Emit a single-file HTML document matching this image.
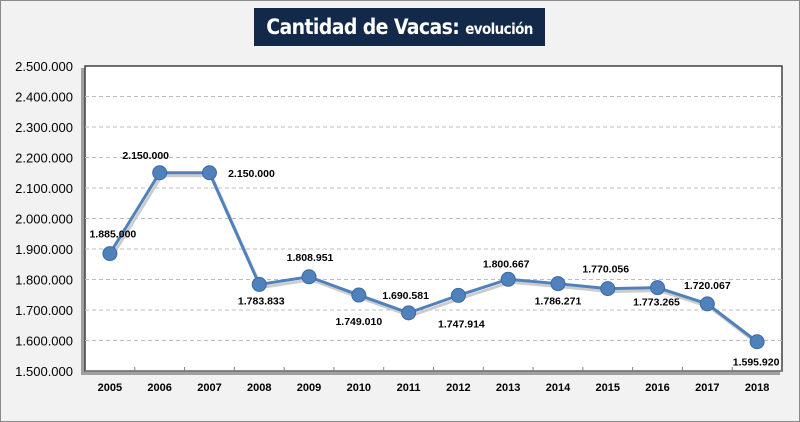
<!DOCTYPE html>
<html><head><meta charset="utf-8"><style>
body{margin:0;width:800px;height:422px;overflow:hidden;background:#fff;font-family:"Liberation Sans",sans-serif}
#frame{position:absolute;left:0;top:0;width:798px;height:420px;border:1px solid #8a8a8a;background:#f2f2f2}
#title{position:absolute;left:254px;top:8px;width:291px;height:38px;background:#13294a;color:#fff;text-align:center;line-height:38px;white-space:nowrap;overflow:hidden;font-family:"DejaVu Sans Condensed","Liberation Sans Narrow","Liberation Sans",sans-serif;font-weight:bold;font-size:21px;letter-spacing:-0.6px}
#title span{font-size:15px}
</style></head><body>
<div id="frame"></div>
<div id="title">Cantidad de Vacas: <span>evolución</span></div>
<svg id="chart" width="800" height="422" style="position:absolute;left:0;top:0"></svg>
<script>
const years=["2005","2006","2007","2008","2009","2010","2011","2012","2013","2014","2015","2016","2017","2018"];
const values=[1885000,2150000,2150000,1783833,1808951,1749010,1690581,1747914,1800667,1786271,1770056,1773265,1720067,1595920];
const yTicks=[1500000,1600000,1700000,1800000,1900000,2000000,2100000,2200000,2300000,2400000,2500000];
const labelDx=[3,-14,42,2,1,0,-3,3,-2,0,-2,-1,0,-1];
const labelDy=[-20,-18,0,16,-20,26,-18,28,-16,17,-20,14,-19,20];
const NS="http://www.w3.org/2000/svg";
const svg=document.getElementById('chart');
const L=85,R=782,T=66,B=371,yMin=1500000,yMax=2500000;
const step=(R-L)/years.length;
const xS=i=>L+step*(i+0.5);
const yS=v=>B-(v-yMin)/(yMax-yMin)*(B-T);
const fmt=v=>String(v).replace(/\B(?=(\d{3})+(?!\d))/g,'.');
function mk(tag,attrs,parent){const e=document.createElementNS(NS,tag);for(const k in attrs)e.setAttribute(k,attrs[k]);(parent||svg).appendChild(e);return e;}
let e;
e=mk('rect',{x:L-4,y:T+2,width:R-L+2,height:B-T+2,fill:'#a0a0a0'});


e=mk('rect',{x:L,y:T,width:R-L,height:B-T,fill:'#fff',stroke:'#404040','stroke-width':1.5});


yTicks.forEach((t,i)=>{
  const y=yS(t);
  if(i>0&&i<yTicks.length-1){e=mk('line',{x1:L,x2:R,y1:y,y2:y,stroke:'#bdbdbd','stroke-dasharray':'4,3'});
  
  }
  e=mk('text',{x:L-12,y:y+5,'text-anchor':'end','font-size':13,fill:'#000'});e.textContent=fmt(t);
  
  
});
e=mk('line',{x1:L,x2:R,y1:B,y2:B,stroke:'#808080','stroke-width':1.5});


years.forEach((yr,i)=>{
  const xt=L+step*(i+1);
  if(i<years.length-1){e=mk('line',{x1:xt,x2:xt,y1:B,y2:B-4,stroke:'#808080'});
  
  }
  e=mk('text',{x:xS(i),y:B+20,'text-anchor':'middle','font-size':11,'font-weight':'bold',fill:'#000'});e.textContent=yr;
  
  
});
const pts=values.map((v,i)=>xS(i)+','+yS(v)).join(' ');
const ptsS=values.map((v,i)=>(xS(i)+2)+','+(yS(v)+3)).join(' ');
e=mk('polyline',{points:ptsS,fill:'none',stroke:'#cccccc','stroke-width':3});


e=mk('polyline',{points:pts,fill:'none',stroke:'#4f81bd','stroke-width':3});


values.forEach((v,i)=>{
  e=mk('circle',{cx:xS(i),cy:yS(v),r:7,fill:'#4f81bd',stroke:'#3d6aa0','stroke-width':1});
  
  
  e=mk('text',{x:xS(i)+labelDx[i],y:yS(v)+labelDy[i]+4,'text-anchor':'middle','font-size':10.5,'font-weight':'bold',fill:'#000'});e.textContent=fmt(v);
  
  
});
</script>
</body></html>
